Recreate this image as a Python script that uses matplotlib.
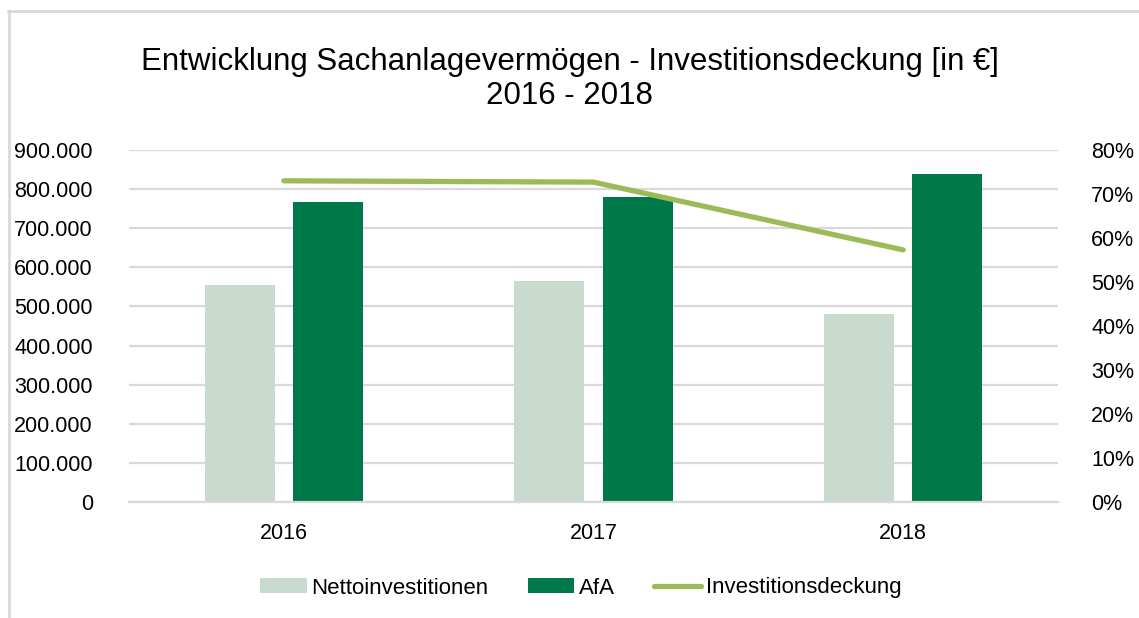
import numpy as np
import matplotlib.pyplot as plt
from matplotlib.lines import Line2D
from matplotlib.ticker import FuncFormatter, MultipleLocator

plt.rcParams['font.family'] = ['Liberation Sans', 'DejaVu Sans']

# data
years = ['2016', '2017', '2018']
netto = [556000, 566000, 480000]
afa = [767000, 780000, 838000]
deckung = [73.0, 72.7, 57.3]

c_netto = '#C9DACF'
c_afa = '#00794A'
c_line = '#9BBB59'
c_grid = '#D9D9D9'

fig = plt.figure(figsize=(11.39, 6.18), dpi=100)
ax = fig.add_axes([129 / 1139, 1 - 502 / 618, (1058 - 129) / 1139, (502 - 150) / 618])
ax2 = ax.twinx()

x = np.arange(len(years))
w = 0.226
off = 0.143
ax.bar(x - off, netto, w, color=c_netto, label='Nettoinvestitionen', zorder=2)
ax.bar(x + off, afa, w, color=c_afa, label='AfA', zorder=2)
ax2.plot(x, deckung, color=c_line, lw=3.8, solid_capstyle='round',
         label='Investitionsdeckung', zorder=3)

ax.set_xlim(-0.5, 2.5)
ax.set_ylim(0, 900000)
ax.yaxis.set_major_locator(MultipleLocator(100000))
ax.yaxis.set_major_formatter(FuncFormatter(lambda v, p: f'{int(v):,}'.replace(',', '.')))
ax2.set_ylim(0, 80)
ax2.yaxis.set_major_locator(MultipleLocator(10))
ax2.yaxis.set_major_formatter(FuncFormatter(lambda v, p: f'{int(v)}%'))

fs = 15.5
ax.set_xticks(x)
ax.set_xticklabels(years)
ax.grid(axis='y', color=c_grid, lw=1.6, zorder=0)
ax.set_axisbelow(True)
for a in (ax, ax2):
    for s in a.spines.values():
        s.set_visible(False)
ax.spines['bottom'].set_visible(True)
ax.spines['bottom'].set_color(c_grid)
ax.spines['bottom'].set_linewidth(1.6)
ax.tick_params(axis='y', length=0, pad=26, labelsize=fs, colors='black')
ax.tick_params(axis='x', length=0, pad=15, labelsize=fs)
ax2.tick_params(axis='y', length=0, pad=24, labelsize=fs)

fig.text(0.5, 1 - 79 / 618, 'Entwicklung Sachanlagevermögen - Investitionsdeckung [in €]\n2016 - 2018',
         ha='center', va='center', fontsize=22.5, linespacing=1.2)

h1, l1 = ax.get_legend_handles_labels()
h2, l2 = ax2.get_legend_handles_labels()
fig.legend(h1 + h2, l1 + l2, loc='center', bbox_to_anchor=(0.5097, 1 - 588 / 618),
           ncol=3, frameon=False, fontsize=16, handlelength=2.1, handleheight=0.68,
           handletextpad=0.22, columnspacing=1.75)

# chart frame (only left and top edge visible)
fig.add_artist(Line2D([8.5 / 1139, 8.5 / 1139], [0, 1 - 11 / 618], color=c_grid, lw=2))
fig.add_artist(Line2D([8 / 1139, 1], [1 - 11 / 618, 1 - 11 / 618], color=c_grid, lw=2))

fig.savefig('out.png', dpi=100)
